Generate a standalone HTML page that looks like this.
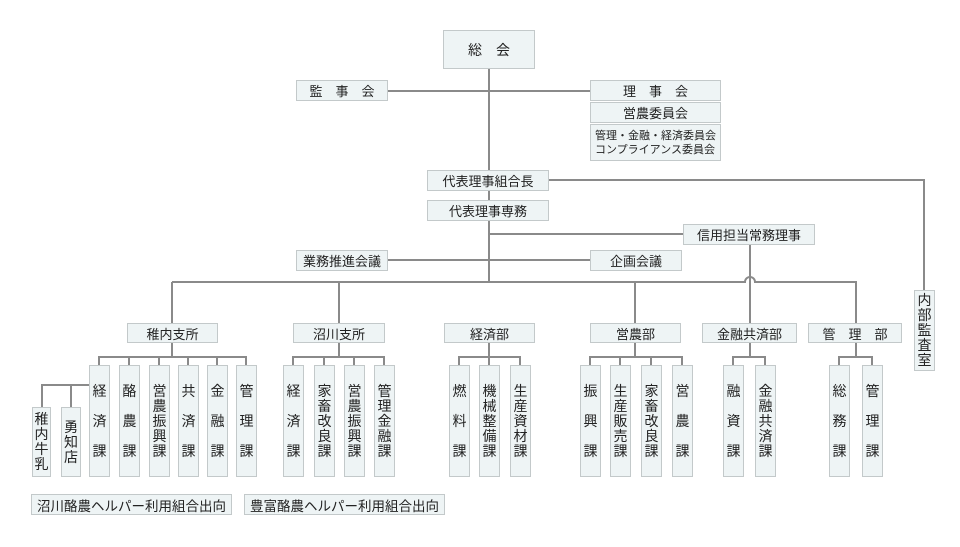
<!DOCTYPE html>
<html><head><meta charset="utf-8"><style>
body{margin:0;width:960px;height:547px;background:#fff;position:relative;overflow:hidden;font-family:"Liberation Sans","Noto Sans CJK JP",sans-serif;color:#222}
.b{position:absolute;background:#eef4f5;border:1px solid #c3c9ca;box-sizing:border-box;display:flex;align-items:center;justify-content:center;font-size:13px;white-space:nowrap}
.v{flex-direction:column;font-size:14px;line-height:15px}
.v3{line-height:30px}
svg{position:absolute;left:0;top:0}
</style></head><body>
<svg width="960" height="547" fill="none" stroke="#8a8a8a" stroke-width="2">
<path d="M489 69V282"/>
<path d="M388 91H590"/>
<path d="M549 180H924V290"/>
<path d="M489 234H683"/>
<path d="M388 260H590"/>
<path d="M172 282H745 A5 5 0 0 1 755 282 H856V323"/>
<path d="M750 244V323"/>
<path d="M172 282V323M339 282V323M635 282V323"/>
<!-- 稚内 -->
<path d="M172 343V357M99 365V357H246V365M129 357V365M159 357V365M188 357V365M217 357V365"/>
<path d="M89 385H42V407M71 385V407"/>
<!-- 沼川 -->
<path d="M339 343V357M293 365V357H384V365M324 357V365M354 357V365"/>
<!-- 経済部 -->
<path d="M489 343V357M459 365V357H520V365M489 357V365"/>
<!-- 営農部 -->
<path d="M635 343V357M590 365V357H682V365M620 357V365M651 357V365"/>
<!-- 金融共済 -->
<path d="M750 343V357M733 365V357H765V365"/>
<!-- 管理部 -->
<path d="M856 343V357M839 365V357H872V365"/>
</svg>
<div class="b" style="left:443px;top:30px;width:92px;height:39px;font-size:14px">総　会</div>
<div class="b" style="left:296px;top:80px;width:92px;height:21px">監　事　会</div>
<div class="b" style="left:590px;top:80px;width:131px;height:21px">理　事　会</div>
<div class="b" style="left:590px;top:102px;width:131px;height:21px">営農委員会</div>
<div class="b" style="left:590px;top:124px;width:131px;height:37px;flex-direction:column;font-size:11px;line-height:14px">管理・金融・経済委員会<br>コンプライアンス委員会</div>
<div class="b" style="left:427px;top:170px;width:122px;height:21px">代表理事組合長</div>
<div class="b" style="left:427px;top:200px;width:122px;height:21px">代表理事専務</div>
<div class="b" style="left:683px;top:224px;width:132px;height:21px">信用担当常務理事</div>
<div class="b" style="left:296px;top:250px;width:92px;height:21px">業務推進会議</div>
<div class="b" style="left:590px;top:250px;width:92px;height:21px">企画会議</div>
<div class="b v" style="left:914px;top:290px;width:21px;height:81px">内<br>部<br>監<br>査<br>室</div>

<div class="b" style="left:127px;top:323px;width:91px;height:20px">稚内支所</div>
<div class="b" style="left:293px;top:323px;width:92px;height:20px">沼川支所</div>
<div class="b" style="left:444px;top:323px;width:91px;height:20px">経済部</div>
<div class="b" style="left:590px;top:323px;width:91px;height:20px">営農部</div>
<div class="b" style="left:702px;top:323px;width:95px;height:20px">金融共済部</div>
<div class="b" style="left:808px;top:323px;width:94px;height:20px">管　理　部</div>

<div class="b v" style="left:32px;top:407px;width:19px;height:70px">稚<br>内<br>牛<br>乳</div>
<div class="b v" style="left:61px;top:407px;width:20px;height:70px">勇<br>知<br>店</div>

<div class="b v v3" style="left:89px;top:365px;width:21px;height:112px">経<br>済<br>課</div>
<div class="b v v3" style="left:119px;top:365px;width:21px;height:112px">酪<br>農<br>課</div>
<div class="b v" style="left:149px;top:365px;width:21px;height:112px">営<br>農<br>振<br>興<br>課</div>
<div class="b v v3" style="left:178px;top:365px;width:21px;height:112px">共<br>済<br>課</div>
<div class="b v v3" style="left:207px;top:365px;width:21px;height:112px">金<br>融<br>課</div>
<div class="b v v3" style="left:236px;top:365px;width:21px;height:112px">管<br>理<br>課</div>

<div class="b v v3" style="left:283px;top:365px;width:21px;height:112px">経<br>済<br>課</div>
<div class="b v" style="left:314px;top:365px;width:21px;height:112px">家<br>畜<br>改<br>良<br>課</div>
<div class="b v" style="left:344px;top:365px;width:21px;height:112px">営<br>農<br>振<br>興<br>課</div>
<div class="b v" style="left:374px;top:365px;width:21px;height:112px">管<br>理<br>金<br>融<br>課</div>

<div class="b v v3" style="left:449px;top:365px;width:21px;height:112px">燃<br>料<br>課</div>
<div class="b v" style="left:479px;top:365px;width:21px;height:112px">機<br>械<br>整<br>備<br>課</div>
<div class="b v" style="left:510px;top:365px;width:21px;height:112px">生<br>産<br>資<br>材<br>課</div>

<div class="b v v3" style="left:580px;top:365px;width:21px;height:112px">振<br>興<br>課</div>
<div class="b v" style="left:610px;top:365px;width:21px;height:112px">生<br>産<br>販<br>売<br>課</div>
<div class="b v" style="left:641px;top:365px;width:21px;height:112px">家<br>畜<br>改<br>良<br>課</div>
<div class="b v v3" style="left:672px;top:365px;width:21px;height:112px">営<br>農<br>課</div>

<div class="b v v3" style="left:723px;top:365px;width:21px;height:112px">融<br>資<br>課</div>
<div class="b v" style="left:755px;top:365px;width:21px;height:112px">金<br>融<br>共<br>済<br>課</div>

<div class="b v v3" style="left:829px;top:365px;width:21px;height:112px">総<br>務<br>課</div>
<div class="b v v3" style="left:862px;top:365px;width:21px;height:112px">管<br>理<br>課</div>

<div class="b" style="left:31px;top:494px;width:201px;height:21px;font-size:13.5px">沼川酪農ヘルパー利用組合出向</div>
<div class="b" style="left:244px;top:494px;width:201px;height:21px;font-size:13.5px">豊富酪農ヘルパー利用組合出向</div>
</body></html>
